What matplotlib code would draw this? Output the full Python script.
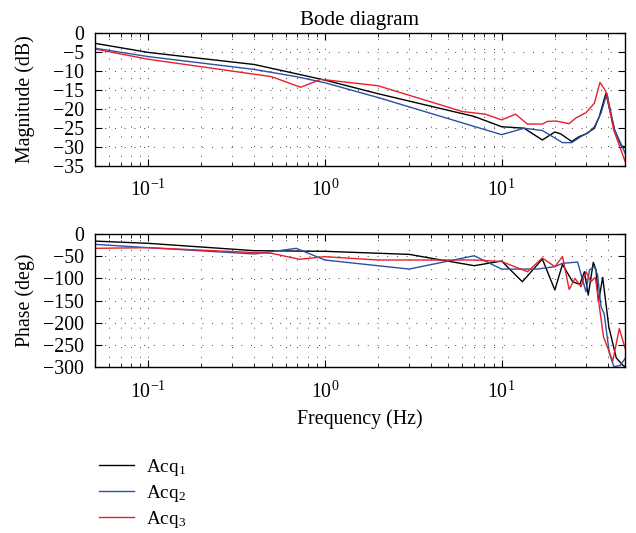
import numpy as np
import matplotlib
matplotlib.use('Agg')
import matplotlib.pyplot as plt
from matplotlib.ticker import LogLocator, NullFormatter, MultipleLocator

plt.rcParams['font.family'] = ['Liberation Serif', 'DejaVu Serif']
plt.rcParams['mathtext.fontset'] = 'custom'
plt.rcParams['mathtext.rm'] = 'Liberation Serif'
plt.rcParams['mathtext.it'] = 'Liberation Serif:italic'
plt.rcParams['font.size'] = 14.3

# magnitude (dB)
f_mag_1 = [0.05, 0.1, 0.4, 1.0, 2.0, 7.0, 10.0, 13.4, 17.0, 20.0, 21.6, 24.9,
           27.5, 30.0, 33.5, 35.7, 38.9, 43.5, 47.5, 50.0]
mag_1 = [-2.7, -5.1, -8.3, -12.4, -16.0, -22.0, -24.7, -25.1, -28.2, -26.1, -26.6,
         -28.6, -27.3, -26.6, -25.1, -22.0, -15.9, -25.5, -29.7, -30.1]

f_mag_2 = [0.05, 0.1, 0.4, 0.69, 1.0, 2.0, 10.0, 13.4, 17.0, 22.1, 24.9, 28.1,
           30.7, 33.5, 36.5, 39.4, 43.5, 50.0]
mag_2 = [-4.0, -6.2, -9.6, -11.5, -13.1, -17.0, -26.8, -25.1, -25.7, -28.9, -28.9,
         -27.3, -26.4, -24.7, -21.1, -15.9, -25.5, -31.7]

f_mag_3 = [0.05, 0.1, 0.5, 0.73, 0.95, 2.0, 6.0, 8.1, 10.0, 12.0, 14.0, 17.0, 18.2,
           20.3, 24.1, 26.3, 30.0, 33.5, 36.0, 38.9, 43.0, 50.0]
mag_3 = [-4.2, -6.9, -11.5, -14.3, -12.2, -13.9, -20.7, -21.4, -22.9, -21.4, -24.0,
         -24.0, -23.3, -23.2, -23.9, -22.4, -21.0, -18.5, -13.0, -15.4, -25.5, -33.9]

# phase (deg)
f_ph_1 = [0.05, 0.1, 0.4, 1.0, 3.0, 7.0, 10.0, 13.1, 17.0, 20.0, 22.1, 25.2, 27.7,
          29.4, 30.9, 33.0, 34.2, 35.3, 37.3, 40.4, 44.5, 48.5, 50.0]
ph_1 = [-16, -21, -37.6, -39, -45.9, -71.4, -60.9, -107.5, -56.4, -126, -68.5,
        -107.5, -113.5, -85, -137.6, -63.9, -81, -152.7, -97.8, -209, -279, -295.5, -299]

f_ph_2 = [0.05, 0.1, 0.4, 0.69, 1.0, 3.0, 7.0, 10.0, 15.9, 20.0, 22.1, 26.9, 30.0,
          31.4, 33.5, 34.9, 36.5, 38.0, 40.7, 43.2, 47.0, 50.0]
ph_2 = [-23.3, -30.8, -45, -32.3, -58.6, -79, -49, -79, -79, -73.6, -66, -63.2,
        -130, -81, -73.6, -92.5, -164, -179, -269, -299, -295.5, -280]

f_ph_3 = [0.05, 0.1, 0.5, 0.72, 1.0, 2.0, 7.0, 10.0, 14.0, 17.0, 20.0, 22.1, 24.1,
          26.0, 28.1, 30.0, 32.0, 33.9, 37.7, 42.5, 46.3, 50.0]
ph_3 = [-32.3, -30.8, -43.6, -57, -51.1, -58.6, -58.6, -62, -85, -54, -73.6, -51,
        -124.8, -100, -118.8, -85, -107.5, -97.8, -231.6, -286.5, -212.8, -258]

labels = [r'Acq$_1$', r'Acq$_2$', r'Acq$_3$']
colors = ['black', '#2d4fa6', '#e8202a']

fig = plt.figure(figsize=(6.36, 5.33), dpi=100)
ax1 = fig.add_axes([0.149, 0.689, 0.834, 0.249])
ax2 = fig.add_axes([0.149, 0.311, 0.834, 0.250])

grid_style = dict(color='black', linestyle=(0, (1, 9)), linewidth=0.7, alpha=0.75)

def style_axis(ax, ylim, ystep):
    ax.set_xscale('log')
    ax.set_xlim(0.05, 50)
    ax.set_ylim(*ylim)
    ax.yaxis.set_major_locator(MultipleLocator(ystep))
    ax.xaxis.set_minor_locator(LogLocator(base=10, subs=np.arange(2, 10)))
    ax.xaxis.set_minor_formatter(NullFormatter())
    ax.tick_params(which='both', direction='in', top=True, right=True)
    ax.tick_params(which='major', length=5, width=0.8)
    ax.tick_params(which='minor', length=3, width=0.6)
    ax.tick_params(axis='y', pad=8)
    ax.tick_params(axis='x', pad=10)
    ax.grid(True, which='major', axis='both', **grid_style)
    ax.grid(True, which='minor', axis='x', **grid_style)
    for s in ax.spines.values():
        s.set_linewidth(1.0)
    ax.yaxis.set_label_coords(-0.113, 0.5)

lines = []
for f, m, c, lab in zip([f_mag_1, f_mag_2, f_mag_3], [mag_1, mag_2, mag_3], colors, labels):
    ln, = ax1.plot(f, m, color=c, lw=1.0, label=lab)
    lines.append(ln)
for f, p, c in zip([f_ph_1, f_ph_2, f_ph_3], [ph_1, ph_2, ph_3], colors):
    ax2.plot(f, p, color=c, lw=1.0)

style_axis(ax1, (-35, 0), 5)
style_axis(ax2, (-300, 0), 50)

ax1.set_title('Bode diagram', pad=6, fontsize=15.2)
ax1.set_ylabel('Magnitude (dB)')
ax2.set_ylabel('Phase (deg)')
ax2.set_xlabel('Frequency (Hz)', labelpad=5)

fig.legend(lines, labels, loc='upper left', bbox_to_anchor=(0.128, 0.175),
           frameon=False, fontsize=13.8, handlelength=1.85, handletextpad=0.6,
           labelspacing=0.25)

fig.savefig('out.png', dpi=100)
